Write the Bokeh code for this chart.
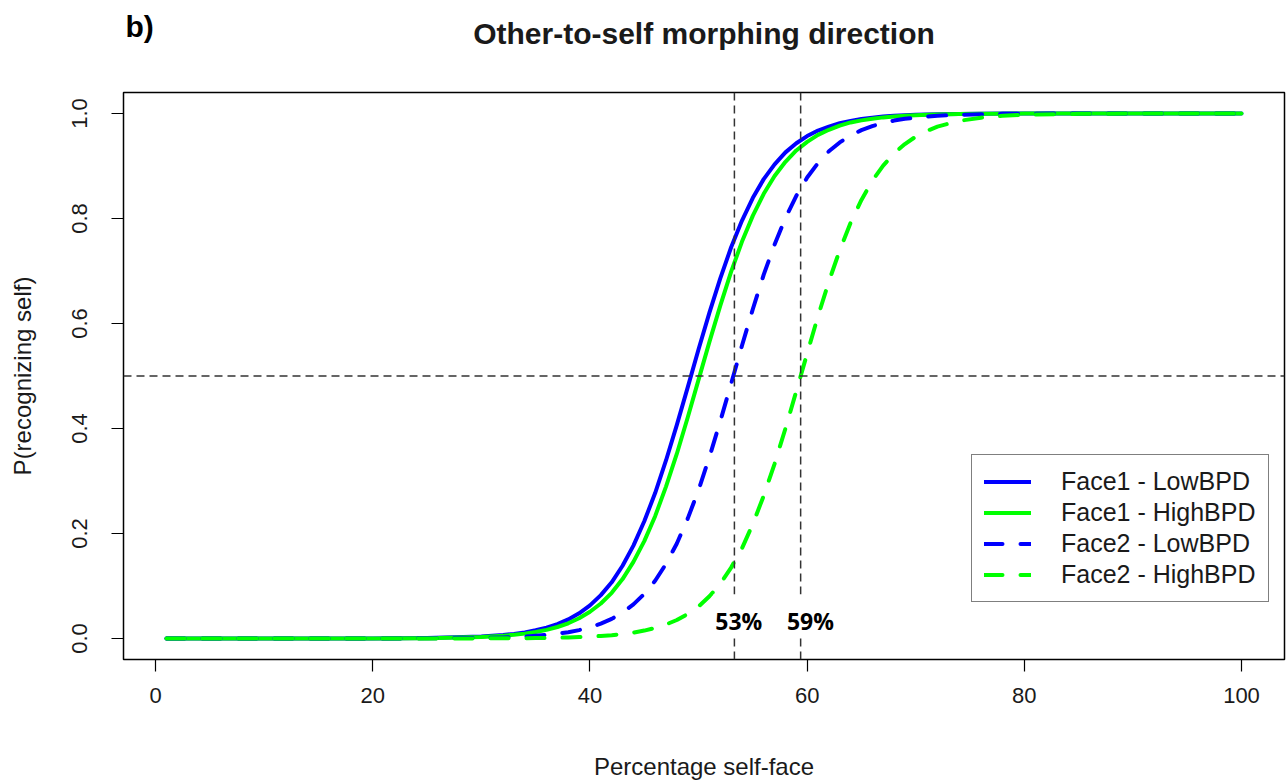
from bokeh.plotting import figure
from bokeh.layouts import column
from bokeh.models import Range1d, FixedTicker, PrintfTickFormatter, Span, Label, Legend, LegendItem
from bokeh.embed import file_html
from bokeh.resources import INLINE

# ---- data ----
pct_self = [1, 10, 20, 25, 30, 32,
            33, 34, 35, 36, 37, 38, 39, 40, 41, 42,
            43, 44, 45, 46, 47, 48, 49, 50, 51, 52,
            53, 54, 55, 56, 57, 58, 59, 60, 61, 62,
            63, 64, 65, 66, 67, 68, 69, 70, 71, 72,
            74, 76, 78, 80, 85, 90, 100]
face1_low = [0.0, 0.0, 0.0002, 0.0009, 0.0037, 0.0066,
             0.0088, 0.0117, 0.0156, 0.0206, 0.0275, 0.0363, 0.048, 0.063, 0.0827, 0.107,
             0.1386, 0.177, 0.2233, 0.277, 0.3391, 0.407, 0.4783, 0.551, 0.6208, 0.686,
             0.7452, 0.796, 0.8393, 0.875, 0.9032, 0.926, 0.9434, 0.957, 0.9675, 0.975,
             0.9815, 0.986, 0.9896, 0.992, 0.9941, 0.9956, 0.9967, 0.9975, 0.9982, 0.9986,
             0.9992, 0.9996, 0.9998, 0.9999, 1.0, 1.0, 1.0]
face1_high = [0.0, 0.0, 0.0002, 0.0007, 0.0029, 0.0052,
              0.0070, 0.0093, 0.0124, 0.0165, 0.0219, 0.029, 0.0385, 0.051, 0.0667, 0.087,
              0.1132, 0.146, 0.1855, 0.233, 0.2893, 0.352, 0.4209, 0.493, 0.5649, 0.634,
              0.6987, 0.756, 0.8055, 0.847, 0.8809, 0.908, 0.9296, 0.946, 0.9593, 0.969,
              0.9768, 0.983, 0.9869, 0.990, 0.9926, 0.9944, 0.9959, 0.9969, 0.9977, 0.9983,
              0.9990, 0.9995, 0.9997, 0.9998, 1.0, 1.0, 1.0]
face2_low = [0.0, 0.0, 0.0001, 0.0003, 0.0012, 0.0021,
             0.0029, 0.0038, 0.0051, 0.0068, 0.0090, 0.0120, 0.0160, 0.0213, 0.0283, 0.0374,
             0.0494, 0.065, 0.0849, 0.110, 0.1421, 0.181, 0.2283, 0.283, 0.3457, 0.414,
             0.4855, 0.558, 0.6276, 0.693, 0.7506, 0.801, 0.8432, 0.878, 0.9057, 0.928,
             0.9449, 0.958, 0.9684, 0.976, 0.9820, 0.9865, 0.9899, 0.992, 0.9943, 0.9957,
             0.9976, 0.9987, 0.9993, 0.9996, 0.9999, 1.0, 1.0]
face2_high = [0.0, 0.0, 0.0, 0.0, 0.0002, 0.0004,
              0.0005, 0.0006, 0.0008, 0.0011, 0.0015, 0.0020, 0.0027, 0.0036, 0.0048, 0.0064,
              0.0085, 0.0113, 0.0151, 0.020, 0.0267, 0.0352, 0.0467, 0.061, 0.0805, 0.104,
              0.1352, 0.172, 0.2182, 0.272, 0.3327, 0.400, 0.4710, 0.543, 0.6140, 0.680,
              0.7396, 0.792, 0.8354, 0.872, 0.9006, 0.924, 0.9418, 0.956, 0.9666, 0.975,
              0.986, 0.992, 0.9955, 0.9975, 0.9994, 0.9999, 1.0]
series_names = ["Face1 - LowBPD", "Face1 - HighBPD", "Face2 - LowBPD", "Face2 - HighBPD"]
thresholds = [53.3, 59.4]
threshold_labels = ["53%", "59%"]
x_ticks = [0, 20, 40, 60, 80, 100]
y_ticks = [0.0, 0.2, 0.4, 0.6, 0.8, 1.0]
title_text = "Other-to-self morphing direction"
panel_letter = "b)"

FONT = "Liberation Sans"
TXT = "#1a1a1a"
W = 1286
HEAD_H = 90

# ---- heading strip (title and panel letter); its frame aligns with the plot frame ----
head = figure(width=W, height=HEAD_H, output_backend="svg", toolbar_location=None,
              x_range=Range1d(-2.96, 103.96), y_range=Range1d(0, 1),
              x_axis_type=None, y_axis_type=None,
              min_border_left=123, min_border_right=2, min_border_top=0, min_border_bottom=0)
head.grid.visible = False
head.outline_line_color = None
head.background_fill_color = "white"
head.border_fill_color = "white"
head.add_layout(Label(x=580.5, y=HEAD_H - 33, x_units="screen", y_units="screen", text=title_text,
                      text_align="center", text_baseline="middle",
                      text_font=FONT, text_font_style="bold", text_font_size="30px", text_color=TXT))
head.add_layout(Label(x=2, y=HEAD_H - 26, x_units="screen", y_units="screen", text=panel_letter,
                      text_align="left", text_baseline="middle",
                      text_font=FONT, text_font_style="bold", text_font_size="30px", text_color="black"))

# ---- main plot ----
p = figure(width=W, height=692, output_backend="svg", toolbar_location=None,
           x_range=Range1d(-2.96, 103.96), y_range=Range1d(-0.04, 1.04),
           min_border_left=123, min_border_right=2, min_border_top=2, min_border_bottom=120)
p.grid.visible = False
p.outline_line_color = "black"
p.outline_line_width = 1.5
p.background_fill_color = "white"
p.border_fill_color = "white"

for ax in (p.xaxis[0], p.yaxis[0]):
    ax.axis_line_color = None
    ax.major_tick_line_color = "black"
    ax.major_tick_line_width = 1.2
    ax.major_tick_out = 12
    ax.major_tick_in = 0
    ax.minor_tick_line_color = None
    ax.major_label_text_font = FONT
    ax.major_label_text_font_size = "22px"
    ax.major_label_text_color = TXT
    ax.axis_label_text_font = FONT
    ax.axis_label_text_font_size = "24px"
    ax.axis_label_text_font_style = "normal"
    ax.axis_label_text_color = TXT

p.xaxis.ticker = FixedTicker(ticks=x_ticks)
p.yaxis.ticker = FixedTicker(ticks=y_ticks)
p.yaxis.formatter = PrintfTickFormatter(format="%.1f")
p.yaxis.major_label_orientation = "vertical"
p.xaxis.major_label_standoff = 16
p.yaxis.major_label_standoff = 25
p.xaxis.axis_label = "Percentage self-face"
p.yaxis.axis_label = "P(recognizing self)"
p.xaxis.axis_label_standoff = 47
p.yaxis.axis_label_standoff = 33

colors = ["#0000FF", "#00FF00", "#0000FF", "#00FF00"]
dashes = ["solid", "solid", "18 18", "18 18"]
ys = [face1_low, face1_high, face2_low, face2_high]
renderers = []
for yv, c, d in zip(ys, colors, dashes):
    r = p.line(pct_self, yv, line_color=c, line_width=4, line_dash=d, line_cap="round", line_join="round")
    renderers.append(r)

# reference lines
p.add_layout(Span(location=0.5, dimension="width", line_color="#333333", line_width=1.5, line_dash="8 5"))
for t in thresholds:
    p.add_layout(Span(location=t, dimension="height", line_color="#333333", line_width=1.5, line_dash="8 5"))

for t, lab, dx in zip(thresholds, threshold_labels, [0.4, 0.9]):
    p.add_layout(Label(x=t + dx, y=0.043, text=lab, text_align="center", text_baseline="middle",
                       text_font="Open Sans", text_font_style="bold", text_font_size="23px",
                       text_color="black", background_fill_color="white",
                       padding=dict(left=2, right=2, top=11, bottom=0)))

legend = Legend(items=[LegendItem(label=n, renderers=[r]) for n, r in zip(series_names, renderers)],
                location=(848, 57), orientation="vertical",
                border_line_color="black", border_line_width=1.5, background_fill_color="white",
                background_fill_alpha=1.0, label_text_font=FONT, label_text_font_size="25px",
                label_text_color=TXT, padding=12, spacing=2, label_height=25, glyph_height=25,
                glyph_width=47, label_standoff=30, margin=0)
p.add_layout(legend, "center")

layout = column(head, p, spacing=0)
open("out.html", "w").write(file_html(layout, INLINE))
